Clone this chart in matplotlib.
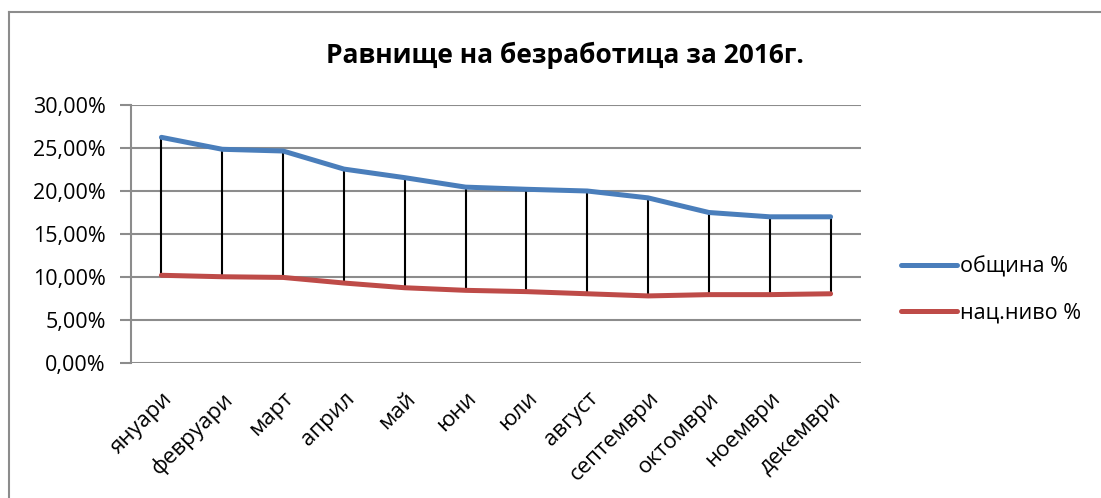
import numpy as np
import matplotlib.pyplot as plt
from matplotlib.lines import Line2D

plt.rcParams['font.family'] = ['Open Sans', 'DejaVu Sans']

# data ==================================================================================================================
months = ["януари", "февруари", "март", "април", "май", "юни",
          "юли", "август", "септември", "октомври", "ноември", "декември"]
obshtina = [26.24, 24.85, 24.65, 22.55, 21.55, 20.45, 20.2, 20.0, 19.2, 17.5, 17.0, 17.0]
nac_nivo = [10.2, 10.03, 9.95, 9.3, 8.75, 8.45, 8.3, 8.05, 7.8, 7.95, 7.95, 8.05]
yticks = [0, 5, 10, 15, 20, 25, 30]

blue = "#4A7EBB"
red = "#BE4B48"
grid = "#8C8C8C"

# figure ================================================================================================================
W, H = 1101, 498
fig = plt.figure(figsize=(W/100, H/100), dpi=100)
ax = fig.add_axes([131/W, 1 - 363/H, (861 - 131)/W, (363 - 105)/H])

x = np.arange(len(months))

# high-low lines
ax.vlines(x, nac_nivo, obshtina, color="black", lw=1.5, zorder=2)
ax.plot(x, obshtina, color=blue, lw=3.6, solid_capstyle="round", zorder=3)
ax.plot(x, nac_nivo, color=red, lw=3.6, solid_capstyle="round", zorder=3)

ax.set_xlim(-0.5, len(months) - 0.5)
ax.set_ylim(0, 30)
ax.set_yticks(yticks)
ax.set_yticklabels([f"{v:.2f}%".replace(".", ",") for v in yticks], fontsize=15.5)
ax.set_xticks(x)
ax.set_xticklabels(months, fontsize=16, rotation=45, ha="right", rotation_mode="anchor")
ax.tick_params(axis="x", length=0, pad=18)
ax.tick_params(axis="y", length=8, width=1.5, color=grid, pad=10)
for v in yticks:
    ax.axhline(v, color=grid, lw=1.5, zorder=1)
for s in ["top", "right", "bottom"]:
    ax.spines[s].set_visible(False)
ax.spines["left"].set_color(grid)
ax.spines["left"].set_linewidth(1.5)

fig.text(565/W, 1 - 55/H, "Равнище на безработица за 2016г.", fontsize=19, fontweight="bold",
         ha="center", va="center")

handles = [Line2D([], [], color=blue, lw=3.6, solid_capstyle="round"),
           Line2D([], [], color=red, lw=3.6, solid_capstyle="round")]
fig.legend(handles, ["община %", "нац.ниво %"], loc="center left", bbox_to_anchor=(882/W, 1 - 290/H),
           frameon=False, fontsize=15.5, handlelength=2.6, handletextpad=0.1, labelspacing=1.15)

# chart border (only top and left visible)
fig.add_artist(Line2D([8.5/W, 8.5/W], [0, 1 - 12/H], color=grid, lw=1.5))
fig.add_artist(Line2D([8.5/W, 1], [1 - 12/H, 1 - 12/H], color=grid, lw=1.5))

fig.savefig("out.png", dpi=100)
